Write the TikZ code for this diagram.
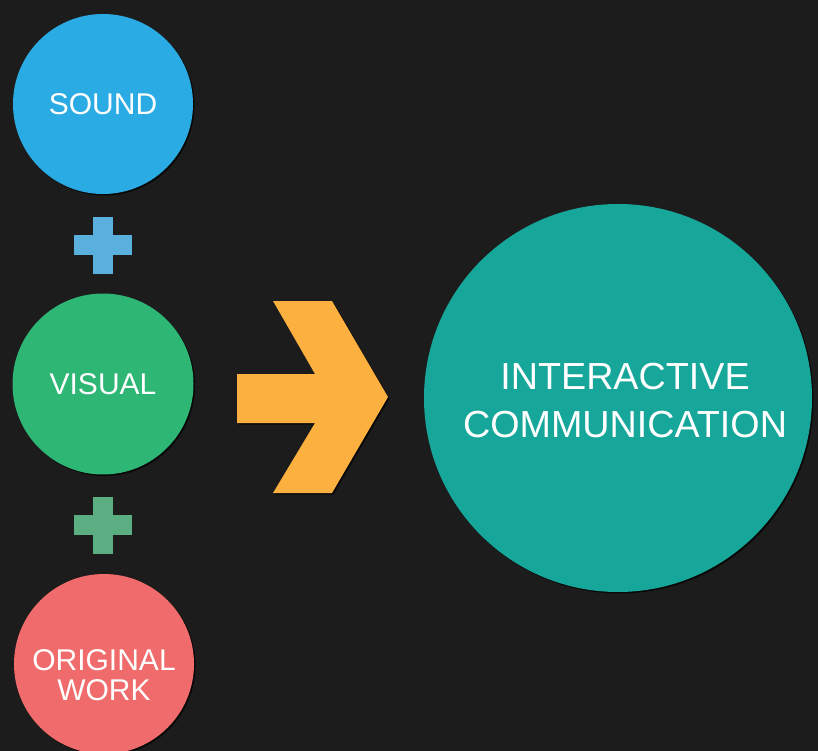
\documentclass[tikz,border=0pt]{standalone}
\usepackage{fontspec}
\setmainfont{Liberation Sans}
\usepackage{tikz}
\usetikzlibrary{shadows}
\definecolor{bg}{HTML}{1C1C1C}
\definecolor{soundblue}{HTML}{2AABE4}
\definecolor{plusblue}{HTML}{5AB0DD}
\definecolor{visualgreen}{HTML}{2DB674}
\definecolor{plusgreen}{HTML}{5BAE82}
\definecolor{workred}{HTML}{F06B6B}
\definecolor{arrowgold}{HTML}{FCB040}
\definecolor{bigteal}{HTML}{16A79A}
\tikzset{
	darkshadow/.style={drop shadow={fill=black,shadow xshift=1.5pt,shadow yshift=-1.5pt,opacity=0.7}},
	ball/.style 2 args={circle,inner sep=0pt,minimum size=#1,fill=#2,text=white,align=center,darkshadow},
	word/.style={font=\fontsize{30}{30}\selectfont},
	bigword/.style={font=\fontsize{37.7}{48}\selectfont}
}

\begin{document}
\begin{tikzpicture}[x=1pt,y=-1pt]
	\fill[bg] (0,0) rectangle (818,751);
	\useasboundingbox (0,0) rectangle (818,751);
	\clip (0,0) rectangle (818,751);

	\node [ball={180}{soundblue},word] (sound) at (103,104) {SOUND};
	\node [ball={181}{visualgreen},word] (visual) at (103,384) {VISUAL};
	\node [ball={180}{workred},word,
		label={[text=white,align=center,word,yshift=-11pt]center:ORIGINAL\\WORK}] (work) at (104,664) {};
	\node [ball={388}{bigteal},bigword,
		label={[text=white,align=center,bigword,xshift=7pt,yshift=-3pt]center:INTERACTIVE\\COMMUNICATION}] (comm) at (618,398) {};

	\foreach \y/\c in {245/plusblue,525/plusgreen} {
		\fill [\c] (74,\y-10) rectangle (132,\y+10);
		\fill [\c] (93,\y-28) rectangle (113,\y+29);
	}

	\fill [arrowgold,darkshadow]
		(237,374) -- (315,374) -- (273,301) -- (332,301) -- (388,397)
		-- (332,493) -- (273,493) -- (315,423) -- (237,423) -- cycle;
\end{tikzpicture}
\end{document}
